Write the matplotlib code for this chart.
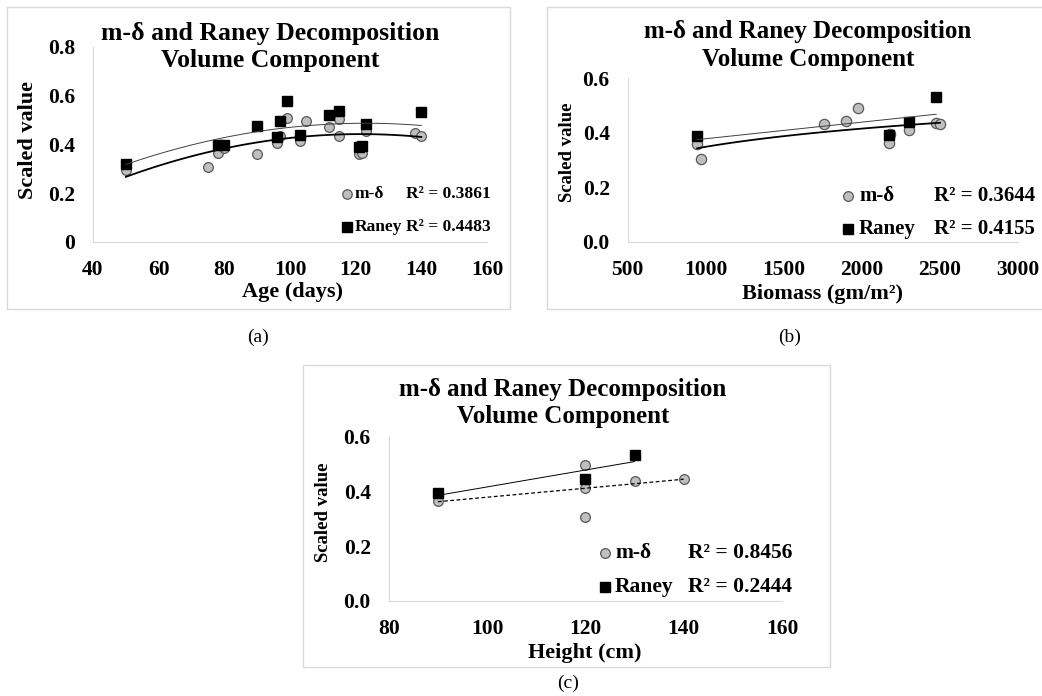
import numpy as np
import matplotlib.pyplot as plt
from matplotlib.patches import Rectangle
from matplotlib.lines import Line2D

W, H = 1042, 696
plt.rcParams["font.family"] = ["Liberation Serif", "DejaVu Serif"]
plt.rcParams["font.weight"] = "bold"

# (a) Age
age_md = [50, 75, 78, 80, 90, 96, 97, 99, 103, 105, 112, 115, 115, 121, 122, 123, 138, 140]
val_md_age = [0.293, 0.309, 0.364, 0.384, 0.361, 0.407, 0.435, 0.507, 0.412, 0.494,
              0.472, 0.503, 0.435, 0.361, 0.366, 0.455, 0.446, 0.436]
age_raney = [50, 78, 80, 90, 96, 97, 99, 103, 112, 115, 121, 122, 123, 140]
val_raney_age = [0.319, 0.398, 0.398, 0.477, 0.429, 0.496, 0.578, 0.440, 0.521, 0.535,
                 0.391, 0.395, 0.483, 0.533]

# (b) Biomass
bio_md = [945, 967, 1760, 1900, 1973, 2171, 2182, 2305, 2476, 2500]
val_md_bio = [0.359, 0.304, 0.432, 0.443, 0.489, 0.363, 0.394, 0.410, 0.434, 0.432]
bio_raney = [945, 2171, 2305, 2476]
val_raney_bio = [0.388, 0.391, 0.440, 0.529]

# (c) Height
hgt_md = [90, 120, 120, 120, 130, 140]
val_md_hgt = [0.367, 0.497, 0.414, 0.308, 0.439, 0.446]
hgt_raney = [90, 120, 130]
val_raney_hgt = [0.394, 0.445, 0.534]

r2_labels = {
    "a": ["R\u00b2 = 0.3861", "R\u00b2 = 0.4483"],
    "b": ["R\u00b2 = 0.3644", "R\u00b2 = 0.4155"],
    "c": ["R\u00b2 = 0.8456", "R\u00b2 = 0.2444"],
}
title = "m-\u03b4 and Raney Decomposition\nVolume Component"

fig = plt.figure(figsize=(W / 100, H / 100), dpi=100)


def fx(x):
    return x / W


def fy(y):
    return 1 - y / H


def make_axes(left, top, right, bottom):
    return fig.add_axes([fx(left), fy(bottom), (right - left) / W, (bottom - top) / H])


def box(left, top, right, bottom):
    fig.patches.append(Rectangle((fx(left), fy(bottom)), (right - left) / W, (bottom - top) / H,
                                 transform=fig.transFigure, fill=False, edgecolor="#d9d9d9", lw=1))


def style(ax, xlim, xticks, ylim, yticks, ylabels, size):
    ax.set_xlim(xlim)
    ax.set_ylim(ylim)
    ax.set_xticks(xticks)
    ax.set_yticks(yticks)
    ax.set_yticklabels(ylabels)
    for s in ["top", "right"]:
        ax.spines[s].set_visible(False)
    for s in ["left", "bottom"]:
        ax.spines[s].set_color("#d9d9d9")
    ax.tick_params(length=0, labelsize=size, pad=13)
    ax.patch.set_alpha(0)


def scatter(ax, x, y, ms_c, ms_s):
    ax.plot(x[0], y[0], "o", ms=ms_c, mfc="#bfbfbf", mec="#595959", mew=0.9, zorder=3, clip_on=False)
    ax.plot(x[1], y[1], "s", ms=ms_s, color="black", zorder=4, clip_on=False)


def trend(ax, x, y, deg, log=False, **kw):
    x = np.asarray(x, float)
    xs = np.linspace(x.min(), x.max(), 100)
    if log:
        c = np.polyfit(np.log(x), y, 1)
        ax.plot(xs, np.polyval(c, np.log(xs)), zorder=5, **kw)
    else:
        c = np.polyfit(x, y, deg)
        ax.plot(xs, np.polyval(c, xs), zorder=5, **kw)


def legend(xm, xt, xr, y1, y2, size, ms_c, ms_s, r2):
    fig.add_artist(Line2D([fx(xm)], [fy(y1)], marker="o", ms=ms_c, mfc="#bfbfbf", mec="#595959",
                          mew=0.9, transform=fig.transFigure))
    fig.add_artist(Line2D([fx(xm)], [fy(y2)], marker="s", ms=ms_s, color="black",
                          transform=fig.transFigure))
    fig.text(fx(xt), fy(y1), "m-\u03b4", fontsize=size, va="center")
    fig.text(fx(xt), fy(y2), "Raney", fontsize=size, va="center")
    fig.text(fx(xr), fy(y1), r2[0], fontsize=size, va="center")
    fig.text(fx(xr), fy(y2), r2[1], fontsize=size, va="center")


# ---- (a)
box(7, 7, 510, 309)
ax = make_axes(93, 46.7, 487, 242)
style(ax, (40, 160), [40, 60, 80, 100, 120, 140, 160], (0, 0.8),
      [0, 0.2, 0.4, 0.6, 0.8], ["0", "0.2", "0.4", "0.6", "0.8"], 15.5)
scatter(ax, (age_md, age_raney), (val_md_age, val_raney_age), 7, 6.8)
trend(ax, age_md, val_md_age, 2, color="black", lw=1.3)
trend(ax, age_raney, val_raney_age, 2, color="#404040", lw=0.7)
fig.text(fx(270), fy(47), title, ha="center", va="center", fontsize=18.5, linespacing=1.27)
fig.text(fx(292), fy(292), "Age (days)", ha="center", va="center", fontsize=16)
fig.text(fx(28), fy(140), "Scaled value", ha="center", va="center", rotation=90, fontsize=16)
legend(347, 355, 406, 194, 227, 12.5, 6.8, 6.8, r2_labels["a"])
fig.text(fx(258), fy(337), "(a)", ha="center", va="center", fontsize=14, fontweight="normal")

# ---- (b)
box(547, 7, 1060, 309)
ax = make_axes(627.7, 78, 1018, 242)
style(ax, (500, 3000), [500, 1000, 1500, 2000, 2500, 3000], (0, 0.6),
      [0, 0.2, 0.4, 0.6], ["0.0", "0.2", "0.4", "0.6"], 15.5)
scatter(ax, (bio_md, bio_raney), (val_md_bio, val_raney_bio), 7.4, 7.8)
trend(ax, bio_md, val_md_bio, 1, log=True, color="black", lw=1.3)
trend(ax, bio_raney, val_raney_bio, 1, color="#404040", lw=0.7)
fig.text(fx(808), fy(45.5), title, ha="center", va="center", fontsize=18, linespacing=1.27)
fig.text(fx(822), fy(294), "Biomass (gm/m\u00b2)", ha="center", va="center", fontsize=16)
fig.text(fx(567), fy(152), "Scaled value", ha="center", va="center", rotation=90, fontsize=13.5)
legend(848, 859, 934, 196, 229, 15, 7, 7, r2_labels["b"])
fig.text(fx(790), fy(337), "(b)", ha="center", va="center", fontsize=14, fontweight="normal")

# ---- (c)
box(303, 365, 830, 667)
ax = make_axes(388.7, 436.7, 782, 601)
style(ax, (80, 160), [80, 100, 120, 140, 160], (0, 0.6),
      [0, 0.2, 0.4, 0.6], ["0.0", "0.2", "0.4", "0.6"], 15.5)
scatter(ax, (hgt_md, hgt_raney), (val_md_hgt, val_raney_hgt), 7, 7.2)
trend(ax, hgt_md, val_md_hgt, 1, color="black", lw=0.9, ls=(0, (3, 2)))
trend(ax, hgt_raney, val_raney_hgt, 1, color="black", lw=0.7)
fig.text(fx(563), fy(403), title, ha="center", va="center", fontsize=18, linespacing=1.27)
fig.text(fx(585), fy(653), "Height (cm)", ha="center", va="center", fontsize=16)
fig.text(fx(323), fy(512), "Scaled value", ha="center", va="center", rotation=90, fontsize=13.5)
legend(605, 615, 688, 553, 587, 15.5, 7, 7.2, r2_labels["c"])
fig.text(fx(568), fy(683), "(c)", ha="center", va="center", fontsize=14, fontweight="normal")

fig.savefig("out.png", dpi=100)
